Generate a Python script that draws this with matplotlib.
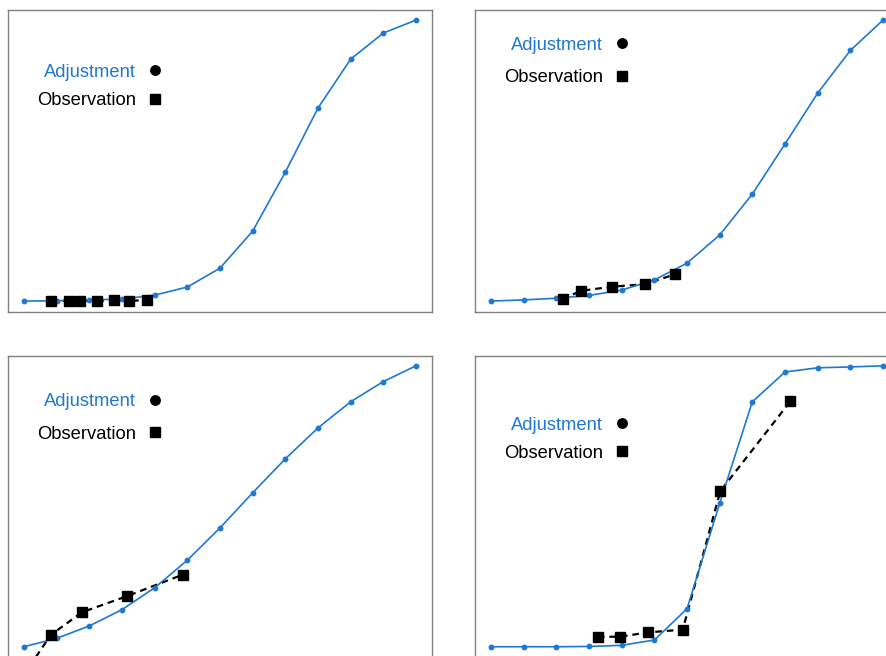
import numpy as np
import matplotlib.pyplot as plt
from matplotlib.lines import Line2D

plt.rcParams['font.family'] = ['Liberation Sans', 'DejaVu Sans']

BLUE = '#1f78d2'

# adjusted curve, sampled at 13 equally spaced steps
steps = np.arange(13)
adj_a = [0, 0.1, 0.4, 0.7, 2.1, 5.0, 11.7, 24.9, 45.9, 68.7, 86.1, 95.4, 100]
adj_b = [0, 0.4, 1.0, 2.0, 3.9, 7.5, 13.5, 23.5, 38.1, 55.9, 74.0, 89.2, 100]
adj_c = [0, 3.0, 7.4, 13.2, 21.0, 30.8, 42.3, 54.8, 66.9, 77.9, 87.2, 94.4, 100]
adj_d = [0, 0, 0, 0.1, 0.5, 2.4, 13.5, 51.0, 87.2, 97.8, 99.3, 99.6, 100]

# observed points
obs_a_x = [0.83, 1.38, 1.71, 2.23, 2.75, 3.21, 3.76]
obs_a_y = [0.1, 0.1, 0.1, 0.1, 0.2, 0.1, 0.3]
obs_b_x = [2.19, 2.74, 3.69, 4.71, 5.63]
obs_b_y = [0.6, 3.6, 5.1, 6.0, 9.5]
obs_c_x = [0.0, 0.82, 1.78, 3.15, 4.87]
obs_c_y = [-9.9, 4.2, 12.3, 18.0, 25.7]
obs_d_x = [3.27, 3.96, 4.81, 5.87, 7.02, 9.16]
obs_d_y = [3.5, 3.6, 5.1, 6.1, 55.4, 87.3]

W, H = 886, 656
fig = plt.figure(figsize=(W / 100, H / 100), dpi=100)

# panel frames in pixels: (left, top); every panel is 424 x 302
panels = [
    (8, 10, adj_a, obs_a_x, obs_a_y, 86.5, 0.64),
    (475, 10, adj_b, obs_b_x, obs_b_y, 61.5, 0.84),
    (8, 355.7, adj_c, obs_c_x, obs_c_y, 418.0, 0.86),
    (475, 355.7, adj_d, obs_d_x, obs_d_y, 439.2, 0.62),
]

for left, top, adj, ox, oy, leg_y, spacing in panels:
    aw, ah = 424, 302
    ax = fig.add_axes([left / W, (H - top - ah) / H, aw / W, ah / H])
    ax.plot(steps, adj, color=BLUE, lw=1.2, marker='o', ms=3.2, zorder=2)
    ax.plot(ox, oy, color='black', lw=1.6, ls=(0, (3, 2.2)), zorder=1)
    ax.plot(ox, oy, ls='none', marker='s', ms=6.5, color='black', zorder=3)
    ax.set_xlim(-0.49, 12.49)
    ax.set_ylim(-3.9, 103.6)
    ax.set_xticks([])
    ax.set_yticks([])
    for sp in ax.spines.values():
        sp.set_color('#808080')
        sp.set_linewidth(1.0)

    handles = [
        Line2D([], [], ls='none', marker='o', ms=6.8, color='black'),
        Line2D([], [], ls='none', marker='s', ms=6.8, color='black'),
    ]
    ax.legend(handles, ['Adjustment', 'Observation'], markerfirst=False,
              frameon=False, fontsize=13.2, labelcolor=[BLUE, 'black'],
              handlelength=0.6, handletextpad=0.72, labelspacing=spacing,
              borderpad=0, borderaxespad=0, loc='center right',
              bbox_to_anchor=((147 + 5.4) / aw, 1 - (leg_y - top) / ah))

fig.savefig('out.png', dpi=100)
